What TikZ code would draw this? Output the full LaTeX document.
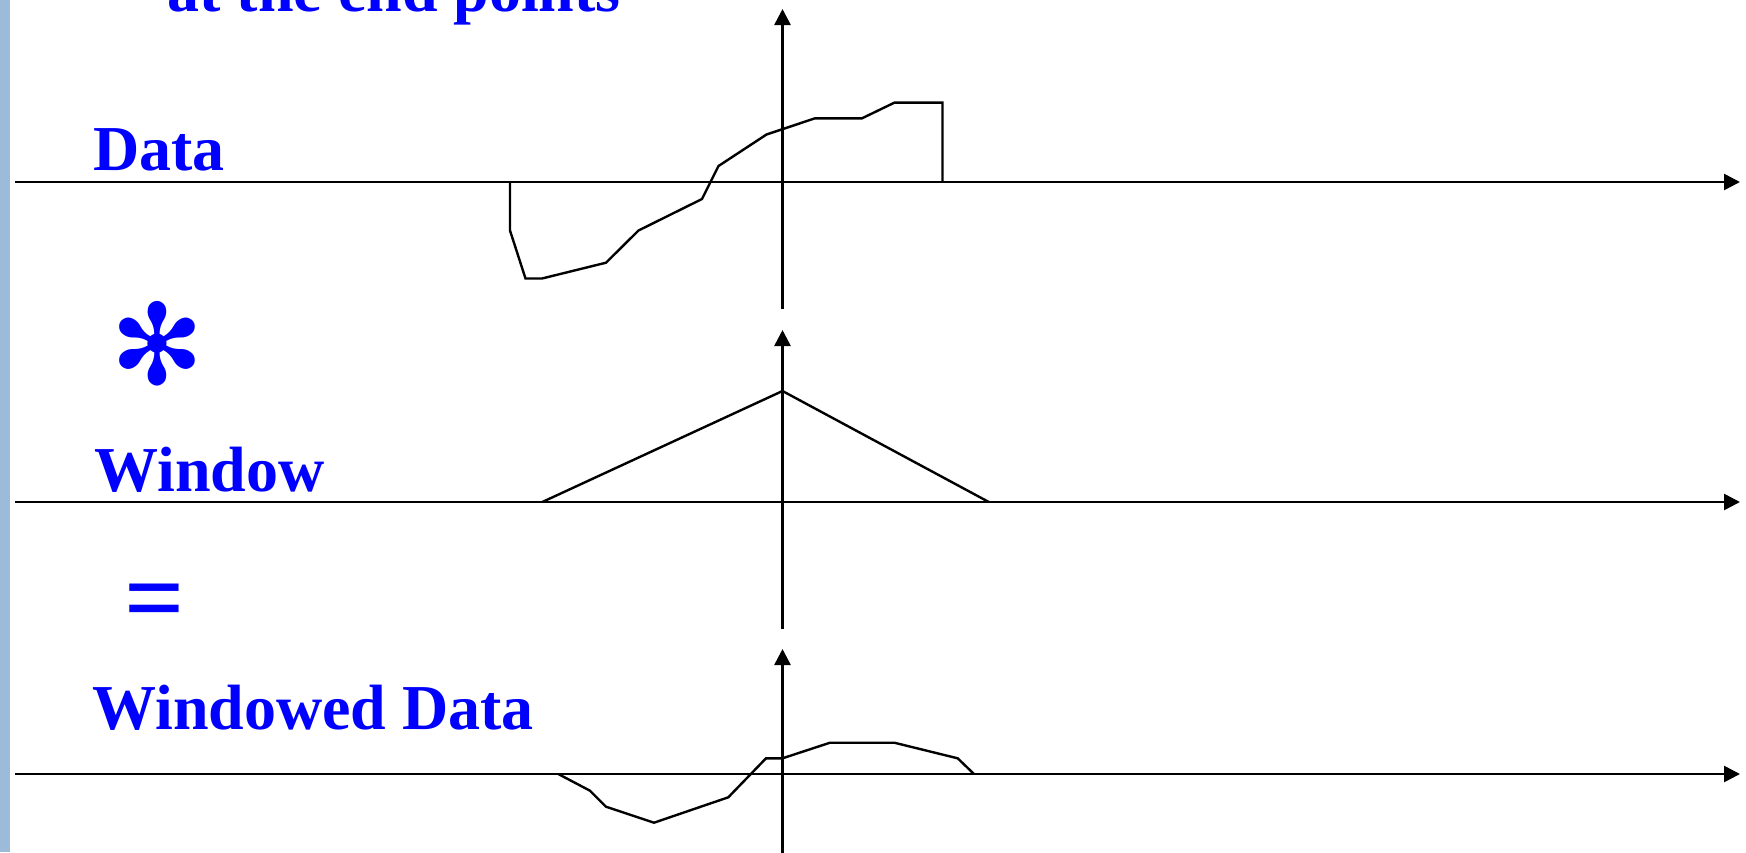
\documentclass[tikz,border=0pt]{standalone}
\usepackage{fontspec}
\setmainfont{Liberation Serif}
\newfontfamily\dingfont{DejaVu Sans}
\usepackage{tikz}
\usetikzlibrary{arrows.meta,positioning}
\definecolor{slideBlue}{RGB}{0,0,255}
\definecolor{slideBar}{RGB}{155,187,217}
\newcommand{\slidefont}{\bfseries\fontsize{32}{38}\selectfont}

\begin{document}
\begin{tikzpicture}[x=0.5pt,y=-0.5pt,
  axis/.style={line width=1.3pt,-{Triangle[length=8pt,width=8pt]}},
  trace/.style={line width=1.2pt,line join=miter},
  caption/.style={anchor=base west,inner sep=0pt,text=slideBlue,font=\slidefont}]
  \useasboundingbox (0,0) rectangle (1746,852);
  \clip (0,0) rectangle (1746,852);
  \fill[slideBar] (0,0) rectangle (10,852);
  \foreach \n/\y/\t/\b in {dat/182/9/309, win/502/330/629, res/774/649/860}{
    \coordinate (\n-l) at (15,\y);
    \coordinate (\n-r) at (1740,\y);
    \coordinate (\n-t) at (782.5,\t);
    \coordinate (\n-b) at (782.5,\b);
    \draw[axis] (\n-l) -- (\n-r);
    \draw[axis] (\n-b) -- (\n-t);
  }
  \node[caption] (lead) at (167,11) {at the end points};
  \node[caption] (datLbl) at (93,170) {Data};
  \node[inner sep=0pt,text=slideBlue,font=\dingfont\fontsize{56}{64}\selectfont] (convSym) at (157.5,344) {✻};
  \node[caption] (winLbl) at (94,491) {Window};
  \node[inner sep=0pt,text=slideBlue,font=\bfseries\fontsize{53}{60}\selectfont] (eqSym) at (155,609) {=};
  \node[caption] (resLbl) at (92,729) {Windowed Data};
  \draw[trace] (510,182) -- (510,230.5) -- (525.5,278.5) -- (542,278.5) -- (606,262.7)
    -- (638.5,230.5) -- (702,199) -- (718.5,166) -- (766.5,134.5) -- (815,118.3)
    -- (862,118.3) -- (894.5,102.6) -- (942.5,102.6) -- (942.5,182);
  \draw[trace] (542.3,502) -- (782.5,391) -- (988.8,502);
  \draw[trace] (558.3,774) -- (590,790.7) -- (606,806.7) -- (654,822.7) -- (728.3,797.3)
    -- (766,758.3) -- (782.5,758.3) -- (830,742.7) -- (894.3,742.7) -- (957.7,758.3)
    -- (974,774);
\end{tikzpicture}
\end{document}
